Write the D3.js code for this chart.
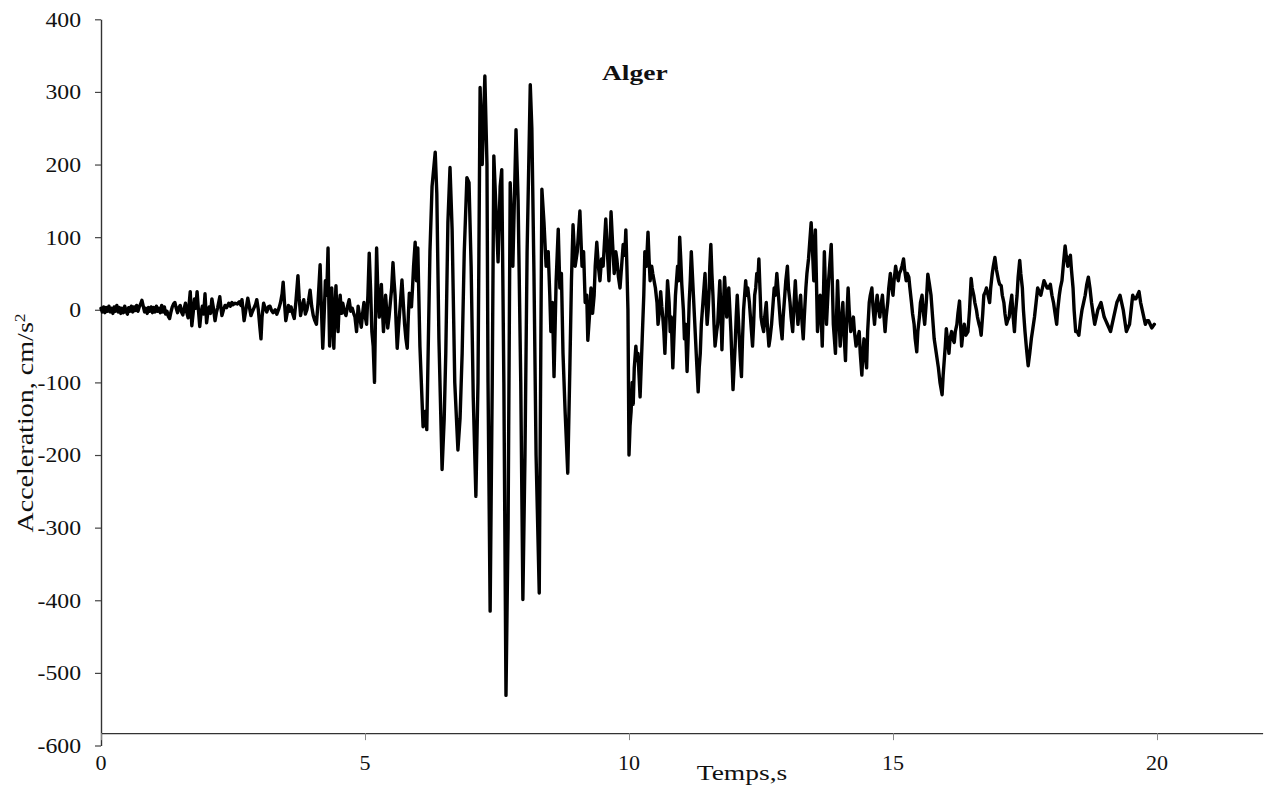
<!DOCTYPE html>
<html>
<head>
<meta charset="utf-8">
<script src="https://cdn.jsdelivr.net/npm/d3@7"></script>
<style>
  body { margin: 0; background: #fff; }
  svg { display: block; }
</style>
</head>
<body>
<svg id="chart" width="1267" height="787"></svg>
<script>
// Axis ticks
const yTicks = [400, 300, 200, 100, 0, -100, -200, -300, -400, -500, -600];
const xTicks = [0, 5, 10, 15, 20];

// Accelerogram, [time (s), acceleration (cm/s²)]
const preEvent = [
  [0.000,2],[0.025,-3],[0.050,4],[0.075,-4],[0.100,3],[0.125,-2],[0.150,5],[0.175,-3],[0.200,2],[0.225,-5],
  [0.250,4],[0.275,-2],[0.300,6],[0.325,-3],[0.350,3],[0.375,-5],[0.400,2],[0.425,-4],[0.450,5],[0.475,-2],
  [0.500,-6],[0.525,3],[0.550,-2],[0.575,5],[0.600,-3],[0.625,4],[0.650,-1],[0.675,6],[0.700,-2],[0.725,4],
  [0.750,8],[0.775,13],[0.800,5],[0.825,-3],[0.850,2],[0.875,-5],[0.900,3],[0.925,-2],[0.950,4],[0.975,-4],
  [1.000,3],[1.025,-3],[1.050,5],[1.075,-2],[1.100,2],[1.125,-4],[1.150,6],[1.175,-3],[1.200,4],[1.225,-6],
  [1.250,-2],[1.275,-9],[1.300,-12],[1.325,-3],[1.350,4],[1.375,8],[1.400,10],[1.425,2],[1.450,-4],[1.475,3],
  [1.500,6],[1.525,-3],[1.550,-7],[1.575,2],[1.600,9],[1.625,-4],[1.650,-11],[1.670,8],[1.690,25],[1.720,-22],
  [1.745,-5],[1.770,15],[1.795,2],[1.820,25],[1.845,0],[1.870,-23],[1.895,-4],[1.920,5],[1.945,-6],[1.970,22],
  [2.000,-18],[2.025,-3],[2.050,4],[2.075,-5],[2.100,15],[2.130,2],[2.160,-15],[2.185,-4],[2.210,3],[2.250,18],
  [2.270,4],[2.290,-8],[2.320,0],[2.350,6],[2.380,3],[2.420,9],[2.450,5],[2.480,10],[2.500,7],[2.540,9],
  [2.580,8],[2.620,11],[2.650,6],[2.670,14],[2.690,0],[2.710,-15],[2.740,-2],[2.780,16],[2.810,4],[2.840,-8],
  [2.870,-2],[2.900,3],[2.930,8],[2.950,14],[2.980,0],[3.010,-25],[3.030,-40],[3.050,-10],[3.080,9],[3.110,2],
  [3.140,-3],[3.170,4],[3.200,5],[3.230,-1],[3.260,-4],[3.300,0],[3.330,-6],[3.370,2],[3.400,10],[3.430,22],
  [3.450,38],[3.475,10],[3.500,-15],[3.525,-5],[3.550,6],[3.575,-2],[3.600,4],[3.630,-5],[3.660,-12],[3.690,10],
  [3.730,47],[3.755,15],[3.780,-8],[3.810,5],[3.840,14],[3.870,-6],[3.900,0],[3.930,12],[3.960,27],[3.990,5],
  [4.020,-8],[4.050,-15],[4.080,-20],[4.110,10],[4.150,62],[4.175,0],[4.200,-53],[4.225,-10],[4.250,40],[4.275,20],
  [4.300,85],[4.315,10],[4.330,-50],[4.350,-5],[4.370,30],[4.390,-20],[4.410,-53],[4.430,0],[4.450,33],[4.470,-10],
  [4.490,-30],[4.510,5],[4.530,20],[4.555,-5],[4.580,9],[4.610,-3],[4.640,-8],[4.670,5],[4.700,14],[4.730,-2],
  [4.760,2],[4.790,-6],[4.810,-10],[4.840,-30],[4.870,5],[4.900,-10],[4.930,-24],[4.955,-5],[4.980,10],[5.005,-10],
  [5.030,-20],[5.055,20],[5.080,78],[5.105,30],[5.130,-30],[5.155,-50],[5.180,-100],[5.200,0],[5.220,85],[5.245,20],
  [5.270,-10],[5.290,10],[5.310,35],[5.330,0],[5.350,-30],[5.370,-5],[5.390,20],[5.410,0],[5.430,-25],[5.455,-10],
  [5.480,10],[5.505,30],[5.530,65],[5.550,40],[5.570,20],[5.590,-20],[5.610,-53],[5.635,-25],[5.660,0],[5.680,20],
  [5.700,41],[5.725,10],[5.750,-20],[5.775,-40],[5.800,-53],[5.820,-10],[5.840,23],[5.860,10],[5.880,4],[5.900,30],
  [5.920,60],[5.950,93],[5.975,40],[6.000,85]
];

const strongMotion = [
  [6.04,-50],[6.10,-161],[6.14,-140],[6.17,-165],[6.23,80],[6.27,170],[6.33,217],[6.36,160],[6.40,-40],
  [6.46,-220],[6.50,-150],[6.53,-60],[6.57,120],[6.61,196],[6.65,110],[6.70,-100],[6.76,-193],[6.80,-150],
  [6.84,-60],[6.88,80],[6.93,182],[6.97,175],[7.01,60],[7.05,-120],[7.10,-257],[7.14,-100],[7.18,306],
  [7.22,200],[7.27,322],[7.31,200],[7.33,-100],[7.37,-415],[7.41,-100],[7.44,212],[7.48,140],[7.52,66],
  [7.56,170],[7.59,193],[7.63,-100],[7.67,-531],[7.71,-300],[7.75,175],[7.80,60],[7.86,248],[7.90,150],
  [7.95,-100],[7.99,-399],[8.03,-200],[8.07,80],[8.13,310],[8.16,250],[8.20,50],[8.24,-200],[8.30,-390],
  [8.33,-50],[8.35,166],[8.39,120],[8.43,60],[8.47,80],[8.50,20],[8.52,-30],[8.55,10],[8.58,-92],[8.62,40],
  [8.66,111],[8.69,30],[8.72,50],[8.75,-60],[8.79,-140],[8.84,-225],[8.88,-80],[8.91,40],[8.94,117],[8.98,60],
  [9.02,80],[9.07,136],[9.11,60],[9.14,80],[9.17,10],[9.20,20],[9.22,-42],[9.25,-10],[9.28,30],[9.31,-5],
  [9.34,20],[9.36,60],[9.39,93],[9.42,60],[9.45,40],[9.48,70],[9.51,60],[9.56,125],[9.59,80],[9.62,40],
  [9.66,135],[9.69,90],[9.72,50],[9.75,80],[9.77,70],[9.80,45],[9.83,30],[9.86,60],[9.89,90],[9.92,75],
  [9.94,110],[9.96,60],[9.98,0],[10.00,-200],[10.02,-160],[10.04,-140],[10.06,-100],[10.08,-130],[10.10,-80],
  [10.13,-50],[10.15,-70],[10.17,-60],[10.19,-90],[10.21,-120],[10.23,-80],[10.25,-40],[10.28,20],[10.30,80],
  [10.33,60],[10.36,107],[10.38,70],[10.40,40],[10.43,60],[10.45,50]
];

const coda = [
  [10.50,30],[10.53,10],[10.55,-20],[10.58,0],[10.60,25],[10.62,5],[10.64,-10],[10.66,-30],[10.68,-60],[10.71,0],
  [10.73,40],[10.76,10],[10.78,-30],[10.80,-10],[10.83,-80],[10.86,-20],[10.88,20],[10.90,40],[10.92,60],[10.94,40],
  [10.96,100],[10.98,70],[11.00,35],[11.03,0],[11.05,-40],[11.07,-20],[11.10,-85],[11.12,-40],[11.14,10],[11.16,40],
  [11.18,80],[11.20,50],[11.22,20],[11.24,-10],[11.26,-40],[11.28,-70],[11.31,-113],[11.33,-80],[11.35,-60],[11.37,-20],
  [11.40,10],[11.42,30],[11.44,50],[11.46,10],[11.48,-20],[11.50,0],[11.52,30],[11.53,60],[11.55,90],[11.57,50],
  [11.59,20],[11.61,-20],[11.63,-50],[11.66,-30],[11.68,-20],[11.70,10],[11.72,40],[11.74,0],[11.76,-55],[11.78,-10],
  [11.81,45],[11.83,20],[11.85,-10],[11.87,10],[11.89,30],[11.91,0],[11.93,-30],[11.95,-70],[11.97,-110],[11.99,-80],
  [12.01,-50],[12.03,-10],[12.05,20],[12.07,-10],[12.09,-40],[12.11,-70],[12.13,-92],[12.15,-40],[12.17,0],[12.19,20],
  [12.21,40],[12.23,20],[12.25,30],[12.28,10],[12.30,-10],[12.32,-30],[12.34,-50],[12.36,-20],[12.38,20],[12.40,30],
  [12.42,50],[12.44,40],[12.46,70],[12.48,30],[12.50,-10],[12.52,-20],[12.55,-30],[12.57,-10],[12.60,10],[12.62,-20],
  [12.65,-50],[12.67,-40],[12.70,-20],[12.72,0],[12.75,30],[12.77,20],[12.80,50],[12.82,30],[12.85,0],[12.87,-20],
  [12.90,-40],[12.92,-10],[12.95,20],[12.97,40],[13.00,60],[13.02,30],[13.05,10],[13.07,-10],[13.10,-30],[13.12,0],
  [13.15,40],[13.17,10],[13.20,-20],[13.22,0],[13.25,20],[13.27,-10],[13.30,-40],[13.32,-10],[13.35,30],[13.37,50],
  [13.40,70],[13.42,90],[13.45,120],[13.47,90],[13.50,40],[13.51,70],[13.53,110],[13.55,40],[13.57,-30],[13.59,-10],
  [13.62,20],[13.64,-10],[13.66,-50],[13.68,10],[13.70,80],[13.72,30],[13.74,-20],[13.76,10],[13.78,40],[13.80,60],
  [13.83,90],[13.85,40],[13.87,-20],[13.89,-40],[13.91,-60],[13.93,-10],[13.95,40],[13.97,0],[14.00,-50],[14.02,-20],
  [14.05,10],[14.07,-30],[14.10,-70],[14.12,-20],[14.15,30],[14.17,0],[14.20,-30],[14.22,-20],[14.25,-10],[14.27,-30],
  [14.30,-50],[14.33,-40],[14.36,-30],[14.38,-60],[14.41,-90],[14.43,-60],[14.45,-40],[14.47,-60],[14.50,-80],[14.52,-30],
  [14.55,10],[14.57,20],[14.60,30],[14.62,5],[14.65,-20],[14.67,0],[14.70,20],[14.72,5],[14.75,-10],[14.77,5],
  [14.80,20],[14.82,0],[14.85,-30],[14.87,-10],[14.90,10],[14.92,30],[14.95,50],[14.97,35],[15.00,20],[15.02,40],
  [15.05,60],[15.07,50],[15.10,40],[15.12,50],[15.15,55],[15.17,60],[15.20,70],[15.22,55],[15.25,40],[15.27,50],
  [15.30,45],[15.32,30],[15.35,10],[15.37,-5],[15.40,-20],[15.42,-40],[15.45,-58],[15.47,-30],[15.50,-10],[15.52,10],
  [15.55,20],[15.57,0],[15.60,-20],[15.63,10],[15.66,49],[15.69,35],[15.72,20],[15.75,-10],[15.78,-40],[15.82,-60],
  [15.86,-80],[15.89,-100],[15.93,-117],[15.95,-90],[15.97,-70],[15.99,-50],[16.01,-26],[16.03,-40],[16.06,-60],[16.08,-40],
  [16.11,-30],[16.13,-40],[16.16,-45],[16.18,-30],[16.21,-20],[16.23,-5],[16.26,12],[16.28,-20],[16.30,-50],[16.32,-35],
  [16.35,-20],[16.38,-35],[16.42,-30],[16.45,0],[16.48,43],[16.50,30],[16.53,20],[16.55,10],[16.58,0],[16.60,-10],
  [16.63,-20],[16.65,-25],[16.67,-35],[16.70,-5],[16.72,20],[16.75,25],[16.77,30],[16.80,20],[16.83,10],[16.85,30],
  [16.88,50],[16.90,60],[16.93,72],[16.96,55],[17.00,40],[17.02,35],[17.05,33],[17.07,20],[17.10,10],[17.12,-5],
  [17.15,-20],[17.17,-15],[17.20,-10],[17.22,5],[17.25,20],[17.27,-5],[17.30,-30],[17.32,-5],[17.35,20],[17.37,45],
  [17.40,68],[17.42,50],[17.45,30],[17.47,0],[17.50,-30],[17.53,-55],[17.56,-77],[17.59,-60],[17.62,-40],[17.65,-25],
  [17.68,-10],[17.71,10],[17.74,30],[17.77,25],[17.80,20],[17.83,30],[17.86,40],[17.89,35],[17.92,30],[17.95,30],
  [17.98,35],[18.01,20],[18.04,10],[18.07,-5],[18.10,-20],[18.12,0],[18.15,20],[18.17,30],[18.20,40],[18.23,65],
  [18.26,88],[18.28,75],[18.31,60],[18.33,70],[18.36,75],[18.38,55],[18.41,30],[18.43,0],[18.46,-30],[18.49,-30],
  [18.52,-35],[18.55,-15],[18.58,0],[18.61,10],[18.64,20],[18.67,35],[18.70,45],[18.73,30],[18.76,10],[18.79,-5],
  [18.82,-20],[18.85,-10],[18.88,0],[18.91,5],[18.94,10],[18.97,0],[19.00,-10],[19.03,-15],[19.06,-20],[19.09,-25],
  [19.12,-30],[19.15,-20],[19.18,-10],[19.21,0],[19.24,10],[19.27,15],[19.30,20],[19.33,10],[19.36,0],[19.39,-15],
  [19.42,-30],[19.45,-25],[19.48,-20],[19.51,0],[19.54,20],[19.57,15],[19.60,15],[19.63,20],[19.66,25],[19.69,10],
  [19.72,0],[19.75,-10],[19.78,-20],[19.81,-15],[19.84,-15],[19.87,-20],[19.90,-25],[19.93,-22],[19.95,-20]
];

const trace = preEvent.concat(strongMotion, coda);

const serif = '"Liberation Serif", "Times New Roman", serif';
const svg = d3.select("#chart");

const x = d3.scaleLinear().domain([0, 22]).range([101, 1262.6]);
const y = d3.scaleLinear().domain([-600, 400]).range([745.5, 19.3]);
const xAxisCrossing = -583;   // value at which the time axis crosses

// Vertical axis
const gy = svg.append("g")
  .attr("transform", "translate(101,0)")
  .call(d3.axisLeft(y).tickValues(yTicks).tickSize(6).tickSizeOuter(0).tickFormat(""));
gy.select(".domain").attr("stroke", "#333").attr("stroke-width", 1.4);
gy.selectAll(".tick line").attr("stroke", "#444").attr("stroke-width", 1.2);

// Horizontal axis
const gx = svg.append("g")
  .attr("transform", `translate(0,${y(xAxisCrossing)})`)
  .call(d3.axisBottom(x).tickValues(xTicks).tickSize(7).tickSizeOuter(0).tickFormat(""));
gx.select(".domain").attr("stroke", "#333").attr("stroke-width", 1.4);
gx.selectAll(".tick line").attr("stroke", "#888").attr("stroke-width", 1);

// Tick labels
svg.append("g").selectAll("g").data(yTicks).join("g")
  .attr("transform", d => `translate(81,${y(d)}) scale(1.13,1)`)
  .append("text")
  .attr("text-anchor", "end").attr("dy", "0.35em")
  .attr("font-family", serif).attr("font-size", 21).attr("fill", "#111")
  .text(d => d);

svg.append("g").selectAll("g").data(xTicks).join("g")
  .attr("transform", d => `translate(${x(d)},770) scale(1.05,1)`)
  .append("text")
  .attr("text-anchor", "middle")
  .attr("font-family", serif).attr("font-size", 21).attr("fill", "#111")
  .text(d => d);

// Time series
svg.append("path")
  .datum(trace)
  .attr("fill", "none")
  .attr("stroke", "#000")
  .attr("stroke-width", 3.4)
  .attr("stroke-linejoin", "round")
  .attr("stroke-linecap", "round")
  .attr("d", d3.line().x(d => x(d[0])).y(d => y(d[1])));

// Axis titles
svg.append("g")
  .attr("transform", "translate(742,780) scale(1.25,1)")
  .append("text")
  .attr("text-anchor", "middle")
  .attr("font-family", serif).attr("font-size", 22).attr("fill", "#111")
  .text("Temps,s");

const yLab = svg.append("g")
  .attr("transform", "translate(33,423) rotate(-90) scale(1.17,1)")
  .append("text")
  .attr("text-anchor", "middle")
  .attr("font-family", serif).attr("font-size", 24).attr("fill", "#111");
yLab.append("tspan").text("Acceleration, cm/s");
yLab.append("tspan").attr("baseline-shift", "super").attr("font-size", 15).text("2");

// Station name
svg.append("g")
  .attr("transform", "translate(602,80) scale(1.25,1)")
  .append("text")
  .attr("font-family", serif).attr("font-size", 22).attr("font-weight", "bold").attr("fill", "#111")
  .text("Alger");
</script>
</body>
</html>
